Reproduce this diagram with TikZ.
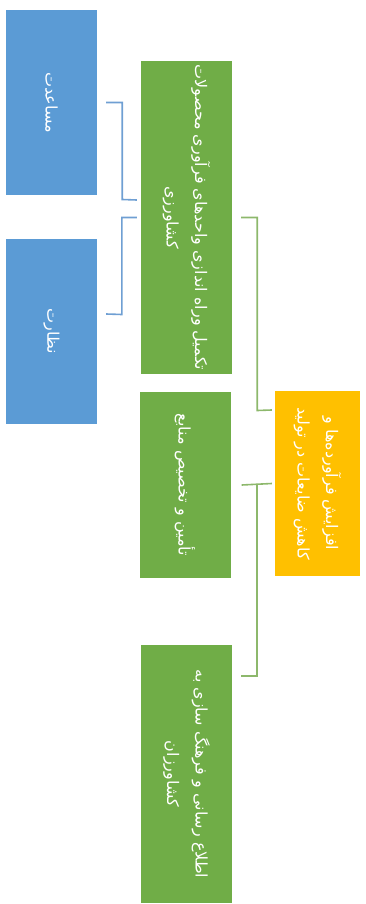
\documentclass[tikz,border=0pt]{standalone}
\usepackage{fontspec}
\newfontfamily\arabicfont[Script=Arabic]{DejaVu Sans}
\TeXXeTstate=1
\newcommand\mytxtfont{\arabicfont\fontsize{16}{28.5}\selectfont\lineskiplimit=-100pt\relax\lineskip=0pt\relax}
\definecolor{boxblue}{HTML}{5B9BD5}
\definecolor{boxgreen}{HTML}{70AD47}
\definecolor{boxyellow}{HTML}{FFC000}
\definecolor{lineblue}{HTML}{6F9FD3}
\definecolor{linegreen}{HTML}{8DB86C}
\begin{document}
\begin{tikzpicture}[x=1pt,y=-1pt,
  box/.style={draw=none,inner sep=0pt,minimum width=91pt},
  bluebox/.style={box,fill=boxblue},
  greenbox/.style={box,fill=boxgreen},
  yellowbox/.style={box,fill=boxyellow,minimum width=85pt},
  txt/.style={rotate=-90,text=white,align=center,inner sep=0pt,font=\mytxtfont},
  blueline/.style={draw=lineblue,line width=1.6pt},
  greenline/.style={draw=linegreen,line width=1.6pt}]
\useasboundingbox (0,0) rectangle (365,904);
% boxes
\node[bluebox,minimum height=185pt] (b1) at (51.5,102.5) {};
\node[bluebox,minimum height=185pt] (b2) at (51.5,331.5) {};
\node[greenbox,minimum height=313pt] (g1) at (186.5,217.5) {};
\node[greenbox,minimum height=186pt] (g2) at (185,485) {};
\node[greenbox,minimum height=258pt] (g3) at (186.5,774) {};
\node[yellowbox,minimum height=185pt] (y) at (317.5,483.5) {};
% texts
\node[txt] (tb1) at (b1.center) {\beginR مساعدت\endR};
\node[txt] (tb2) at (b2.center) {\beginR نظارت\endR};
\node[txt] (tg1) at (g1.center) {\beginR تکمیل وراه اندازی واحدهای فرآوری محصولات\endR\\\beginR کشاورزی\endR};
\node[txt] (tg2) at (g2.center) {\beginR تأمین و تخصیص منابع\endR};
\node[txt] (tg3) at (g3.center) {\beginR اطلاع رسانی و فرهنگ سازی به\endR\\\beginR کشاورزان\endR};
\node[txt] (ty) at (y.center) {\beginR افزایش فرآورده‌ها و\endR\\\beginR کاهش ضایعات در تولید\endR};
% connectors
\draw[blueline] ([xshift=9pt]b1.east) -- ++(16,0) -- ++(0,97) -- ([xshift=-4pt]g1.west |- 0,200);
\draw[blueline] ([xshift=-4pt]g1.west) -- ++(-15,0) -- ++(0,97) -- ([xshift=9pt]b2.east |- 0,314);
\draw[greenline] ([xshift=9pt]g1.east) -- ++(16,0) -- ++(0,193) -- ([xshift=-3pt]y.west |- 0,410);
\draw[greenline] ([xshift=-3pt]y.west) -- ([xshift=11pt]g2.east);
\draw[greenline] ([xshift=-18pt]y.west) -- ++(0,192.5) -- ([xshift=9pt]g3.east |- 0,676);
\end{tikzpicture}
\end{document}
